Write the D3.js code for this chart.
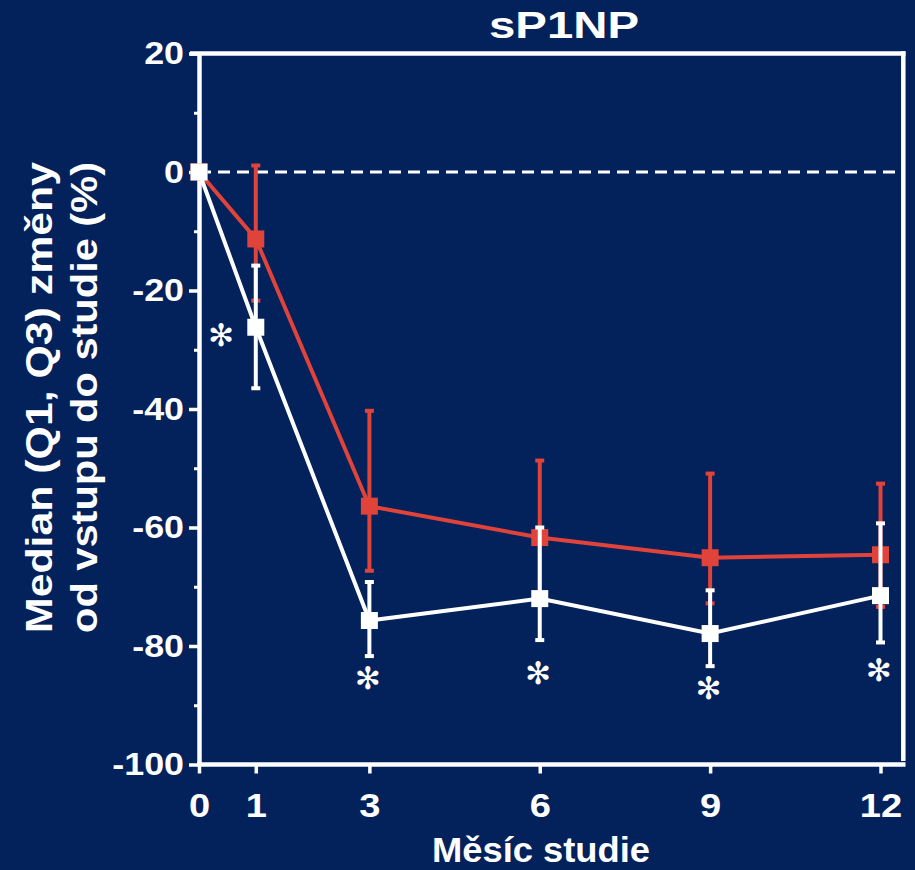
<!DOCTYPE html>
<html>
<head>
<meta charset="utf-8">
<script src="https://cdn.jsdelivr.net/npm/d3@7"></script>
<style>
  html, body { margin: 0; padding: 0; background: #03215a; }
  svg { display: block; }
  text { font-family: "Liberation Sans", Arial, sans-serif; font-weight: bold; fill: #ffffff; }
</style>
</head>
<body>
<svg id="chart" width="915" height="870"></svg>
<script>
// ---- data ----
const months = [0, 1, 3, 6, 9, 12];
const monthLabels = ["0", "1", "3", "6", "9", "12"];
const redMedian = [0, -11.3, -56.4, -61.7, -65.1, -64.6];
const redQ1 = [0, -21.7, -67.3, -72.0, -72.8, -73.4];
const redQ3 = [0, 1.1, -40.3, -48.7, -50.9, -52.6];
const whiteMedian = [0, -26.2, -75.7, -72.0, -77.9, -71.5];
const whiteQ1 = [0, -36.5, -81.7, -79.0, -83.4, -79.4];
const whiteQ3 = [0, -15.8, -69.2, -60.0, -70.6, -59.3];
const sigX = [0.42, 3, 6, 9, 12];
const sigY = [-27.4, -85.3, -84.5, -87.0, -84.0];
const yMajorTicks = [20, 0, -20, -40, -60, -80, -100];
const yMajorLabels = ["20", "0", "-20", "-40", "-60", "-80", "-100"];
const yMinorTicks = [10, -10, -30, -50, -70, -90];
const titleText = "sP1NP";
const xTitle = "Měsíc studie";
const yTitle1 = "Median (Q1, Q3) změny";
const yTitle2 = "od vstupu do studie (%)";

const RED = "#e0433a";
const WHITE = "#ffffff";

const svg = d3.select("#chart");
const x = d3.scaleLinear().domain([0, 12]).range([199, 880.5]);
const y = d3.scaleLinear().domain([-100, 20]).range([764.5, 53.5]);

// frame (top and right)
svg.append("line").attr("x1", 190).attr("x2", 905.5).attr("y1", y(20)).attr("y2", y(20))
  .attr("stroke", WHITE).attr("stroke-width", 4.5);
svg.append("line").attr("x1", 903.3).attr("x2", 903.3).attr("y1", y(20) - 2.2).attr("y2", 761)
  .attr("stroke", WHITE).attr("stroke-width", 4.5);

// y axis (major)
const yAxisG = svg.append("g").attr("transform", `translate(${x(0)},0)`)
  .call(d3.axisLeft(y).tickValues(yMajorTicks).tickSize(10).tickSizeOuter(0).tickPadding(5)
    .tickFormat((d, i) => yMajorLabels[i]));
yAxisG.select(".domain").attr("stroke", WHITE).attr("stroke-width", 4.5);
yAxisG.selectAll(".tick line").attr("stroke", WHITE).attr("stroke-width", 3.5);
yAxisG.selectAll(".tick text").attr("fill", WHITE).style("font-size", "32px")
  .attr("font-family", "Liberation Sans, Arial, sans-serif").attr("font-weight", "bold")
  .attr("x", -15);
// minor ticks
const yMinorG = svg.append("g").attr("transform", `translate(${x(0)},0)`)
  .call(d3.axisLeft(y).tickValues(yMinorTicks).tickSize(5).tickSizeOuter(0).tickFormat(""));
yMinorG.select(".domain").remove();
yMinorG.selectAll(".tick line").attr("stroke", WHITE).attr("stroke-width", 3);

// x axis
const xAxisG = svg.append("g").attr("transform", `translate(0,${y(-100)})`)
  .call(d3.axisBottom(x).tickValues(months).tickSize(9).tickSizeOuter(0).tickPadding(19)
    .tickFormat((d, i) => monthLabels[i]));
xAxisG.select(".domain").attr("stroke", WHITE).attr("stroke-width", 4.5)
  .attr("d", `M${x(0) - 2},0H905.5`);
xAxisG.selectAll(".tick line").attr("stroke", WHITE).attr("stroke-width", 3.5);
xAxisG.selectAll(".tick text").attr("fill", WHITE).style("font-size", "34px")
  .attr("font-family", "Liberation Sans, Arial, sans-serif").attr("font-weight", "bold")
  .attr("dy", "0.71em");

// widen tick labels slightly
svg.selectAll(".tick text").each(function () {
  const w = this.getComputedTextLength();
  if (w > 0) d3.select(this).attr("textLength", w * 1.12).attr("lengthAdjust", "spacingAndGlyphs");
});

// dashed zero line
svg.append("line").attr("x1", x(0)).attr("x2", 901).attr("y1", y(0)).attr("y2", y(0))
  .attr("stroke", WHITE).attr("stroke-width", 3).attr("stroke-dasharray", "12,7");

function drawSeries(med, lo, hi, color) {
  const g = svg.append("g");
  const pts = months.map((m, i) => ({ m, med: med[i], lo: lo[i], hi: hi[i] }));
  const line = d3.line().x(d => x(d.m)).y(d => y(d.med));
  g.append("path").datum(pts).attr("d", line).attr("fill", "none")
    .attr("stroke", color).attr("stroke-width", 4);
  const eb = g.selectAll(".eb").data(pts.filter(d => d.lo !== d.hi)).enter().append("g");
  eb.append("line").attr("x1", d => x(d.m)).attr("x2", d => x(d.m))
    .attr("y1", d => y(d.lo)).attr("y2", d => y(d.hi))
    .attr("stroke", color).attr("stroke-width", 4);
  eb.append("line").attr("x1", d => x(d.m) - 4.5).attr("x2", d => x(d.m) + 4.5)
    .attr("y1", d => y(d.lo)).attr("y2", d => y(d.lo))
    .attr("stroke", color).attr("stroke-width", 4);
  eb.append("line").attr("x1", d => x(d.m) - 4.5).attr("x2", d => x(d.m) + 4.5)
    .attr("y1", d => y(d.hi)).attr("y2", d => y(d.hi))
    .attr("stroke", color).attr("stroke-width", 4);
  g.selectAll("rect").data(pts).enter().append("rect")
    .attr("x", d => x(d.m) - 8.5).attr("y", d => y(d.med) - 8.5)
    .attr("width", 17).attr("height", 17).attr("fill", color);
}
drawSeries(redMedian, redQ1, redQ3, RED);
drawSeries(whiteMedian, whiteQ1, whiteQ3, WHITE);

// significance asterisks
svg.selectAll(".sig").data(sigX.map((v, i) => ({ m: v, v: sigY[i] }))).enter().append("text")
  .attr("class", "sig")
  .attr("x", d => x(d.m) - 1.5).attr("y", d => y(d.v))
  .attr("text-anchor", "middle").attr("dy", "0.36em")
  .style("font-family", "DejaVu Sans, sans-serif").style("font-weight", "normal")
  .style("font-size", "31px").text("✻");

// title
svg.append("text").attr("x", 564).attr("y", 38).attr("text-anchor", "middle")
  .style("font-size", "37px").attr("textLength", 150).attr("lengthAdjust", "spacingAndGlyphs")
  .text(titleText);

// x title
svg.append("text").attr("x", 541).attr("y", 862).attr("text-anchor", "middle")
  .style("font-size", "35px").attr("textLength", 218).attr("lengthAdjust", "spacingAndGlyphs")
  .text(xTitle);

// y title
const yc = 397.5;
svg.append("text").attr("transform", `translate(52,${yc}) rotate(-90)`).attr("text-anchor", "middle")
  .style("font-size", "36px").attr("textLength", 471).attr("lengthAdjust", "spacingAndGlyphs")
  .text(yTitle1);
svg.append("text").attr("transform", `translate(97,${yc}) rotate(-90)`).attr("text-anchor", "middle")
  .style("font-size", "36px").attr("textLength", 471).attr("lengthAdjust", "spacingAndGlyphs")
  .text(yTitle2);
</script>
</body>
</html>
